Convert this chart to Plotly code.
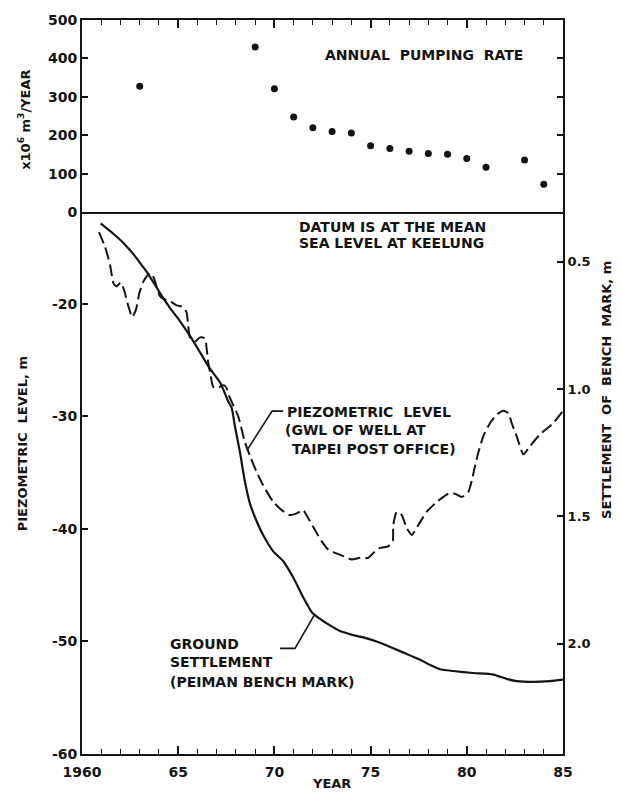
import plotly.graph_objects as go

# ---------------- data ----------------
pump_year = [1963, 1969, 1970, 1971, 1972, 1973, 1974, 1975, 1976, 1977,
             1978, 1979, 1980, 1981, 1983, 1984]
pump_rate = [328, 430, 321, 248, 220, 210, 206, 173, 166, 159,
             153, 151, 140, 117, 136, 73]

piez_year = [1960.88, 1961.20, 1961.46, 1961.63, 1961.80, 1962.01, 1962.18, 1962.41, 1962.61, 1962.81,
             1962.98, 1963.19, 1963.45, 1963.62, 1963.74, 1964.05, 1964.23, 1964.57, 1964.92, 1965.27,
             1965.44, 1965.52, 1965.61, 1965.87, 1966.13, 1966.39, 1966.48, 1966.56, 1966.65, 1966.82,
             1967.00, 1967.17, 1967.38, 1967.52, 1967.66, 1968.12, 1968.47, 1968.73, 1969.08, 1969.42,
             1969.94, 1970.38, 1970.81, 1971.16, 1971.50, 1971.76, 1972.11, 1972.46, 1972.80, 1973.15,
             1973.58, 1974.02, 1974.45, 1974.88, 1975.14, 1975.49, 1975.92, 1976.15, 1976.18, 1976.36,
             1976.62, 1976.88, 1977.14, 1977.48, 1977.92, 1978.44, 1979.04, 1979.39, 1979.74, 1980.08,
             1980.26, 1980.43, 1980.60, 1980.86, 1981.21, 1981.55, 1981.90, 1982.16, 1982.33, 1982.59,
             1982.94, 1983.29, 1983.80, 1984.50, 1985.00]
piez_level = [-13.62, -14.94, -16.54, -18.16, -18.45, -18.10, -18.74, -20.20, -21.17, -20.49,
              -19.04, -18.01, -17.37, -17.28, -17.72, -19.32, -19.56, -19.76, -20.14, -20.29,
              -20.79, -21.96, -22.98, -23.36, -22.98, -23.07, -24.00, -25.18, -26.05, -27.37,
              -27.51, -27.37, -27.22, -27.51, -28.25, -30.00, -32.31, -33.51, -34.96, -36.14,
              -37.60, -38.33, -38.77, -38.62, -38.33, -39.06, -40.09, -41.11, -41.84, -42.13,
              -42.42, -42.72, -42.57, -42.57, -42.13, -41.69, -41.54, -41.11, -39.65, -38.47,
              -38.77, -39.94, -40.53, -39.65, -38.47, -37.60, -36.87, -36.87, -37.16, -36.72,
              -35.70, -34.39, -33.21, -31.75, -30.58, -29.85, -29.50, -29.70, -30.58, -31.75,
              -33.36, -32.63, -31.61, -30.58, -29.50]

settle_year = [1960.97, 1961.63, 1962.15, 1962.67, 1963.10, 1963.45, 1963.79, 1964.14, 1964.57, 1965.09,
               1965.61, 1966.13, 1966.65, 1967.17, 1967.38, 1967.59, 1967.78, 1967.95, 1968.21, 1968.47,
               1968.73, 1969.04, 1969.42, 1969.94, 1970.46, 1970.98, 1971.50, 1971.94, 1972.37, 1972.89,
               1973.41, 1974.10, 1974.80, 1975.49, 1976.18, 1976.88, 1977.57, 1978.09, 1978.61, 1979.30,
               1980.34, 1981.38, 1982.07, 1982.59, 1983.46, 1984.32, 1985.00]
settle_m = [0.349, 0.390, 0.426, 0.470, 0.513, 0.549, 0.590, 0.633, 0.681, 0.733,
            0.791, 0.855, 0.920, 0.973, 1.008, 1.047, 1.074, 1.147, 1.248, 1.364,
            1.450, 1.512, 1.574, 1.637, 1.676, 1.740, 1.818, 1.876, 1.902, 1.928,
            1.950, 1.966, 1.979, 1.996, 2.018, 2.040, 2.063, 2.083, 2.100, 2.107,
            2.115, 2.121, 2.138, 2.147, 2.150, 2.147, 2.141]

year_alias = {"1965": "65", "1970": "70", "1975": "75", "1980": "80", "1985": "85"}
pump_ticks = [0, 100, 200, 300, 400, 500]
piez_ticks = [-60, -50, -40, -30, -20]
piez_labels = ["-60", "-50", "-40", "-30", "-20"]
settle_ticks = [0.5, 1.0, 1.5, 2.0]
settle_labels = ["0.5", "1.0", "1.5", "2.0"]

# ---------------- style ----------------
INK = "#141414"
FONT = "DejaVu Sans"
NB = "\u00a0"

fig = go.Figure()

fig.add_trace(go.Scatter(
    x=pump_year, y=pump_rate, xaxis="x2", yaxis="y2", mode="markers",
    marker=dict(size=7, color=INK), showlegend=False, hoverinfo="skip"))

fig.add_trace(go.Scatter(
    x=piez_year, y=piez_level, xaxis="x", yaxis="y", mode="lines",
    line=dict(color=INK, width=2, dash="12px,5px", shape="spline", smoothing=0.5),
    showlegend=False, hoverinfo="skip"))

fig.add_trace(go.Scatter(
    x=settle_year, y=settle_m, xaxis="x", yaxis="y3", mode="lines",
    line=dict(color=INK, width=2.2, shape="spline", smoothing=0.6),
    showlegend=False, hoverinfo="skip"))

split = 0.7379
axis_common = dict(showgrid=False, zeroline=False, showline=True, linecolor=INK,
                   linewidth=2, ticks="inside", tickcolor=INK, tickwidth=1.5,
                   tickfont=dict(family=FONT, size=14, color=INK, weight="bold"))
minor_x = dict(tick0=1960, dtick=1, ticks="inside", ticklen=5, tickcolor=INK, tickwidth=1.3)

fig.update_layout(
    width=621, height=792,
    margin=dict(l=82, r=58, t=15, b=33),
    paper_bgcolor="white", plot_bgcolor="white",
    xaxis=dict(axis_common, domain=[0, 1], anchor="y", range=[1960, 1985],
               tickmode="linear", tick0=1960, dtick=5, labelalias=year_alias,
               ticklen=8, ticklabelstandoff=4, minor=minor_x),
    xaxis2=dict(axis_common, domain=[0, 1], anchor="y2", range=[1960, 1985], side="top",
                tickmode="linear", tick0=1960, dtick=5, ticklen=8, showticklabels=False,
                mirror=True, minor=minor_x),
    yaxis=dict(axis_common, domain=[0, split], anchor="x", range=[-60, -11.87],
               tickmode="array", tickvals=piez_ticks, ticktext=piez_labels, ticklen=6),
    yaxis2=dict(axis_common, domain=[split, 1], anchor="x2", range=[0, 500],
                tickmode="array", tickvals=pump_ticks, ticklen=6, mirror="ticks"),
    yaxis3=dict(axis_common, overlaying="y", anchor="x", side="right",
                range=[2.433, 0.306], tickmode="array", tickvals=settle_ticks,
                ticktext=settle_labels, ticklen=6,
                tickfont=dict(family=FONT, size=13, color=INK, weight="bold")),
)

txt = dict(family=FONT, size=14, color=INK, weight="bold")
ann = []
ann.append(dict(x=1977.78, y=410, xref="x2", yref="y2", text=f"ANNUAL{NB}{NB}PUMPING{NB}{NB}RATE",
                showarrow=False, xanchor="center", yanchor="middle", font=txt))
ann.append(dict(x=1971.17, y=-13.18, xref="x", yref="y", text="DATUM IS AT THE MEAN",
                showarrow=False, xanchor="left", yanchor="middle", font=txt))
ann.append(dict(x=1971.2, y=-14.59, xref="x", yref="y", text="SEA LEVEL AT KEELUNG",
                showarrow=False, xanchor="left", yanchor="middle", font=txt))
ann.append(dict(x=1970.55, y=-29.59, xref="x", yref="y", text=f"PIEZOMETRIC{NB}{NB}LEVEL",
                showarrow=False, xanchor="left", yanchor="middle", font=txt))
ann.append(dict(x=1970.45, y=-31.25, xref="x", yref="y", text="(GWL OF WELL AT",
                showarrow=False, xanchor="left", yanchor="middle", font=txt))
ann.append(dict(x=1970.81, y=-32.92, xref="x", yref="y", text="TAIPEI POST OFFICE)",
                showarrow=False, xanchor="left", yanchor="middle", font=txt))
ann.append(dict(x=1964.47, y=-50.20, xref="x", yref="y", text="GROUND",
                showarrow=False, xanchor="left", yanchor="middle", font=txt))
ann.append(dict(x=1964.47, y=-51.78, xref="x", yref="y", text="SETTLEMENT",
                showarrow=False, xanchor="left", yanchor="middle", font=txt))
ann.append(dict(x=1964.47, y=-53.62, xref="x", yref="y", text="(PEIMAN BENCH MARK)",
                showarrow=False, xanchor="left", yanchor="middle", font=txt))

ttl = dict(family=FONT, size=13, color=INK, weight="bold")
ann.append(dict(x=-0.1206, y=0.864, xref="paper", yref="paper",
                text=f"x10<sup>6</sup>{NB}m<sup>3</sup>/YEAR", textangle=-90,
                showarrow=False, xanchor="center", yanchor="middle", font=ttl))
ann.append(dict(x=-0.1247, y=0.422, xref="paper", yref="paper",
                text=f"PIEZOMETRIC{NB}{NB}LEVEL,{NB}m", textangle=-90,
                showarrow=False, xanchor="center", yanchor="middle", font=ttl))
ann.append(dict(x=1.0915, y=0.496, xref="paper", yref="paper",
                text=f"SETTLEMENT{NB}{NB}OF{NB}{NB}BENCH{NB}{NB}MARK,{NB}m", textangle=-90,
                showarrow=False, xanchor="center", yanchor="middle", font=ttl))
ann.append(dict(x=0.5177, y=-0.040, xref="paper", yref="paper", text="YEAR",
                showarrow=False, xanchor="center", yanchor="middle", font=ttl))
fig.update_layout(annotations=ann)

# leader lines
fig.add_shape(type="path", xref="x", yref="y",
              path="M 1970.45,-29.53 L 1969.88,-29.53 L 1968.58,-33.0",
              line=dict(color=INK, width=1.6))
fig.add_shape(type="path", xref="x", yref="y",
              path="M 1970.29,-50.61 L 1971.07,-50.61 L 1972.11,-47.54",
              line=dict(color=INK, width=1.6))

fig.write_html(
    "out.html",
    config={"displayModeBar": False},
    post_script="document.body.style.margin='0px';document.body.style.overflow='hidden';",
)
